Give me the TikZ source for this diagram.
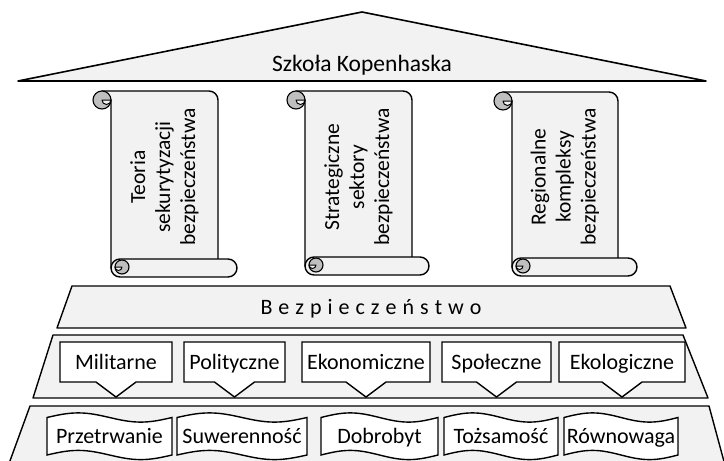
\documentclass[tikz,border=0pt]{standalone}
\usepackage{fontspec}
\setmainfont{Carlito}
\definecolor{bandgray}{HTML}{F2F2F2}
\definecolor{curlgray}{HTML}{BFBFBF}
\newcommand\ls{\kern 6pt}
\newcommand\scrollshape[5]{%
 \filldraw[band] ({#1-9},{-#3}) -- ({#2-9},{-#3}) arc[start angle=90,end angle=0,radius=9] -- ({#2},{-#4+9}) -- ({#1},{-#4+9}) -- ({#1},{-#3-9}) -- cycle;
 \filldraw[band] ({#1+9},{-#4+18}) -- ({#5-9},{-#4+18}) arc[start angle=90,end angle=-90,radius=9] -- ({#1+9},{-#4}) arc[start angle=270,end angle=90,radius=9] -- cycle;
 \filldraw[curl] ({#1-9},{-#3-9}) circle[radius=9];
 \filldraw[band,line width=1pt] ({#1-9},{-#3-9}) arc[start angle=180,end angle=360,radius=4.5] -- cycle;
 \filldraw[curl] ({#1+11},{-#4+10}) circle[radius=7];
 \filldraw[band,line width=1pt] ({#1+11},{-#4+10}) arc[start angle=0,end angle=-180,radius=3.5] -- cycle;
}
\newcommand\callout[4]{%
 \pgfmathsetmacro\cxm{(#2+#3)/2}
 \filldraw[boxw] (#2,-382) -- (#2,-342) -- (#3,-342) -- (#3,-382) -- ({\cxm+20},-382) -- (\cxm,-397) -- ({\cxm-20},-382) -- cycle;
 \node[lab,anchor=base] (#1) at (\cxm,-369) {#4};
}
\newcommand\wavebox[4]{%
 \pgfmathsetmacro\wq{(#3-#2)/4}
 \filldraw[boxw] (#2,-417.5) sin ({#2+\wq},-412.9) cos ({#2+2*\wq},-417.5) sin ({#2+3*\wq},-422.1) cos (#3,-417.5) -- (#3,-455) sin ({#2+3*\wq},-459.6) cos ({#2+2*\wq},-455) sin ({#2+\wq},-450.4) cos (#2,-455) -- cycle;
 \node[lab,anchor=base] (#1) at ({(#2+#3)/2},-443) {#4};
}
\begin{document}
\begin{tikzpicture}[x=1pt,y=1pt,
  band/.style={fill=bandgray,draw=black,line width=1.4pt,line join=round},
  curl/.style={fill=curlgray,draw=black,line width=1.1pt},
  boxw/.style={fill=white,draw=black,line width=1.4pt,line join=miter},
  lab/.style={font=\fontsize{22}{26}\selectfont,inner sep=0pt}]
\useasboundingbox (0,-461) rectangle (724,0);
\clip (0,-461) rectangle (724,0);
% roof
\filldraw[band,line width=1.6pt] (18,-81) -- (362,-12) -- (706,-81) -- cycle;
\node[lab,anchor=base,font=\fontsize{23.5}{28}\selectfont] (roof) at (362,-71) {Szkoła Kopenhaska};
% scrolls
\scrollshape{111}{218}{91}{277}{237}
\scrollshape{305}{412}{91}{275}{429}
\scrollshape{512}{618}{92}{276}{637}
\node[lab,rotate=90,align=center,font=\fontsize{21.5}{25}\selectfont] (s1) at (164.5,-177) {Teoria\\sekurytyzacji\\bezpieczeństwa};
\node[lab,rotate=90,align=center,font=\fontsize{21.5}{25}\selectfont] (s2) at (358.5,-177) {Strategiczne\\sektory\\bezpieczeństwa};
\node[lab,rotate=90,align=center,font=\fontsize{21.5}{25}\selectfont] (s3) at (565,-177) {Regionalne\\kompleksy\\bezpieczeństwa};
% Bezpieczenstwo band
\filldraw[band] (72,-286) -- (670,-286) -- (686,-328) -- (57,-328) -- cycle;
\node[lab,anchor=base] (bez) at (371,-314) {B\ls e\ls z\ls p\ls i\ls e\ls c\ls z\ls e\ls ń\ls s\ls t\ls w\ls o};
% sectors band
\filldraw[band] (53,-335) -- (683,-335) -- (708,-398) -- (33,-398) -- cycle;
\callout{mil}{60}{172}{Militarne}
\callout{pol}{184}{285}{Polityczne}
\callout{eko}{302}{430}{Ekonomiczne}
\callout{spo}{442}{551}{Społeczne}
\callout{ekl}{559}{685}{Ekologiczne}
% values band
\filldraw[band] (30,-406) -- (709,-406) -- (729,-480) -- (3,-480) -- cycle;
\wavebox{prz}{47}{172}{Przetrwanie}
\wavebox{suw}{177}{307}{Suwerenność}
\wavebox{dob}{321}{438}{Dobrobyt}
\wavebox{toz}{444}{558}{Tożsamość}
\wavebox{row}{564}{678}{Równowaga}
\end{tikzpicture}
\end{document}
